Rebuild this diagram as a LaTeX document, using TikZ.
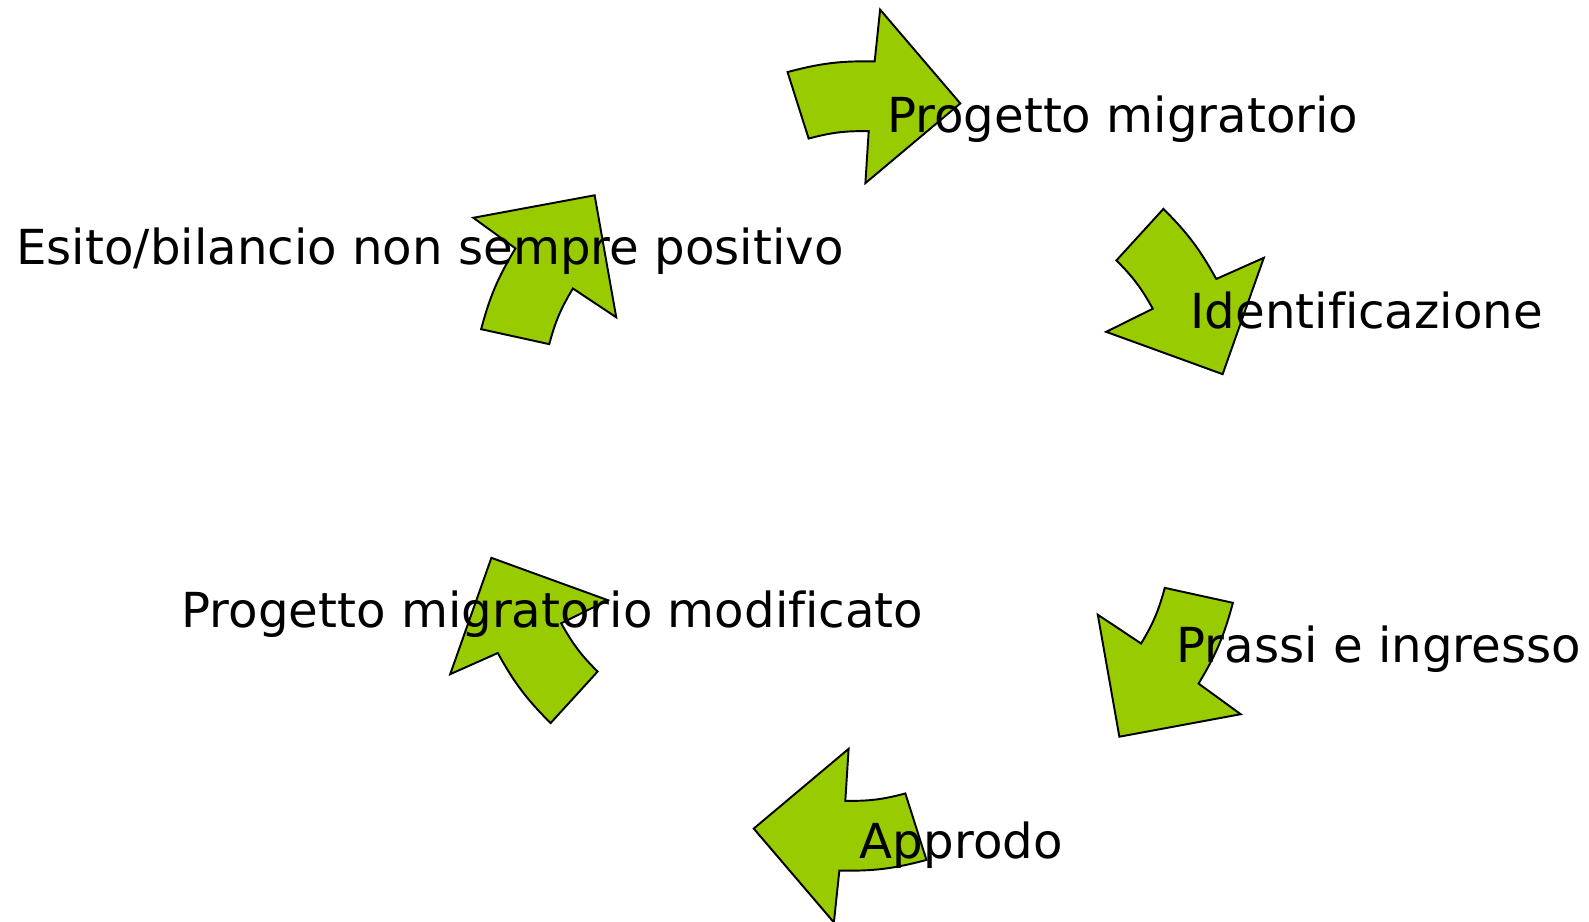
\documentclass[tikz,border=0pt]{standalone}
\usepackage{fontspec}
\setmainfont[Ligatures=NoCommon]{DejaVu Sans}
\definecolor{arrowgreen}{RGB}{153,204,0}
\tikzset{
  stage/.style={anchor=base west, inner sep=0pt, font=\fontsize{27.45}{32}\selectfont},
  cyclearrow/.pic={
    \draw[fill=arrowgreen, line width=1.1pt, line join=miter]
      (100:400) to[bend left=8] (87.5:405) -- (87.1:457) -- (74.1:377)
      -- (88.3:283) -- (88:335) to[bend right=8] (98.4:331) -- cycle;
  }
}
\begin{document}
\begin{tikzpicture}[x=0.02cm, y=0.02cm]
        \useasboundingbox (0,0) rectangle (1589,-922);
        \coordinate (c) at (857,-466);

        % Arrows of the cycle
        \pic at (c) {cyclearrow};
        \pic[rotate=-60] at (c) {cyclearrow};
        \pic[rotate=-120] at (c) {cyclearrow};
        \pic[rotate=180] at (c) {cyclearrow};
        \pic[rotate=120] at (c) {cyclearrow};
        \pic[rotate=60] at (c) {cyclearrow};

        % Stages
        \node[stage] (progetto) at (887,-132.3) {Progetto migratorio};
        \node[stage] (identificazione) at (1190.3,-328.3) {Identificazione};
        \node[stage] (prassi) at (1176.3,-662.3) {Prassi e ingresso};
        \node[stage] (approdo) at (859.6,-858.3) {Approdo};
        \node[stage] (modificato) at (181.3,-627.3) {Progetto migratorio modificato};
        \node[stage] (esito) at (16,-265) {Esito/bilancio non sempre positivo};
    \end{tikzpicture}
\end{document}
